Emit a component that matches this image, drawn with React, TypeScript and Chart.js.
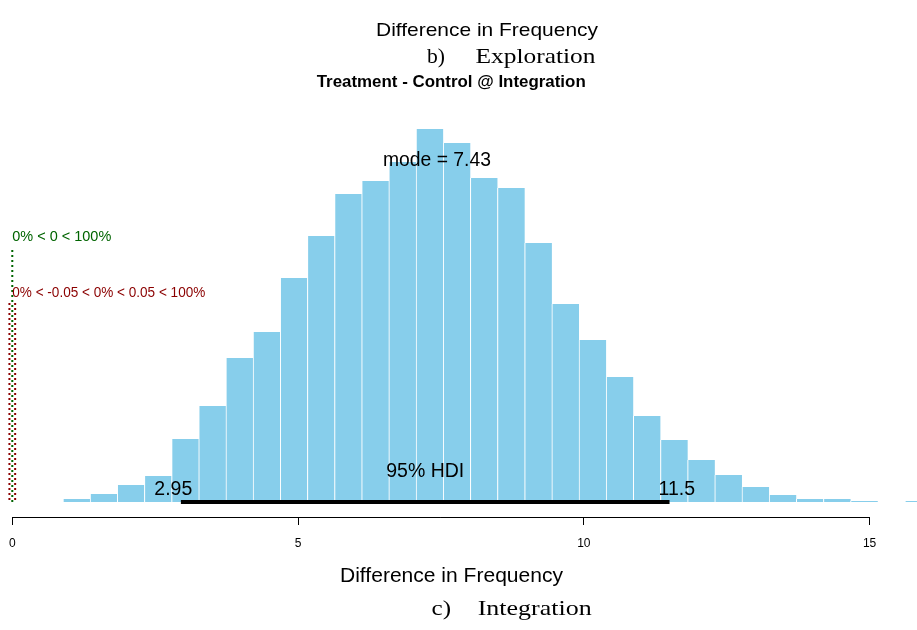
import React, { useEffect, useRef } from "react";
import { Chart, registerables } from "chart.js";

Chart.register(...registerables);

// ---- data ----
const BIN_MIDS = [
  1.125, 1.6, 2.075, 2.55, 3.026, 3.501, 3.976, 4.451, 4.927, 5.402, 5.877,
  6.352, 6.827, 7.303, 7.778, 8.253, 8.728, 9.204, 9.679, 10.154, 10.629,
  11.104, 11.58, 12.055, 12.53, 13.005, 13.481, 13.956, 14.431, 14.906,
  15.382, 15.857,
];
const BIN_COUNTS = [
  3, 8, 17, 26, 63, 96, 144, 170, 224, 266, 308, 321, 340, 373, 359, 324, 314,
  259, 198, 162, 125, 86, 62, 42, 27, 15, 7, 3, 3, 1, 0, 1,
];
const X_TICKS = [0, 5, 10, 15];
const X_MIN = -0.215;
const X_MAX = 15.83;
const Y_MIN = -15;
const Y_MAX = 402;
const HDI = [2.95, 11.5];
const HDI_LABELS = ["2.95", "11.5"];
const MODE = 7.43;
const MODE_LABEL = "mode = 7.43";
const COMP_VAL = 0;
const ROPE = [-0.05, 0.05];
const COMP_LABEL = "0% < 0 < 100%";
const ROPE_LABEL = "0% < -0.05 < 0% < 0.05 < 100%";
const COMP_LINE_TOP = 252;
const ROPE_LINE_TOP = 199;
const COMP_TEXT_Y = 261;
const ROPE_TEXT_Y = 205;
const TOP_CAPTION = "Difference in Frequency";
const PANEL_B = ["b)", "Exploration"];
const MAIN_TITLE = "Treatment - Control @ Integration";
const X_TITLE = "Difference in Frequency";
const PANEL_C = ["c)", "Integration"];

const SANS = "'Liberation Sans', Arial, sans-serif";
const SERIF = "'Liberation Serif', 'Times New Roman', serif";

function drawText(
  ctx: CanvasRenderingContext2D,
  text: string,
  x: number,
  y: number,
  font: string,
  color: string,
  adj: number,
  width?: number
) {
  ctx.save();
  ctx.font = font;
  ctx.fillStyle = color;
  ctx.textBaseline = "alphabetic";
  ctx.textAlign = "left";
  const w = ctx.measureText(text).width;
  const sx = width ? width / w : 1;
  const left = x - adj * w * sx;
  ctx.translate(left, y);
  ctx.scale(sx, 1);
  ctx.fillText(text, 0, 0);
  ctx.restore();
}

const overlay = {
  id: "overlay",
  afterDatasetsDraw(chart: any) {
    const ctx: CanvasRenderingContext2D = chart.ctx;
    const xs = chart.scales.x;
    const ys = chart.scales.y;
    const area = chart.chartArea;
    const X = (v: number) => xs.getPixelForValue(v);
    const Y = (v: number) => ys.getPixelForValue(v);

    // HDI bar
    ctx.save();
    ctx.strokeStyle = "#000";
    ctx.lineWidth = 4;
    ctx.lineCap = "butt";
    ctx.beginPath();
    ctx.moveTo(X(HDI[0]), Y(0));
    ctx.lineTo(X(HDI[1]), Y(0));
    ctx.stroke();
    ctx.restore();

    // comparison value and ROPE dotted lines
    ctx.save();
    ctx.lineWidth = 2;
    ctx.setLineDash([2, 3]);
    ctx.strokeStyle = "#8B0000";
    ROPE.forEach((r) => {
      ctx.beginPath();
      ctx.moveTo(X(r), Y(ROPE_LINE_TOP));
      ctx.lineTo(X(r), Y(0));
      ctx.stroke();
    });
    ctx.strokeStyle = "#006400";
    ctx.beginPath();
    ctx.moveTo(X(COMP_VAL), Y(COMP_LINE_TOP));
    ctx.lineTo(X(COMP_VAL), Y(0));
    ctx.stroke();
    ctx.restore();

    // x axis line (R style, from first to last tick)
    ctx.save();
    ctx.strokeStyle = "#000";
    ctx.lineWidth = 1;
    const yb = Math.round(area.bottom) + 0.5;
    ctx.beginPath();
    ctx.moveTo(X(X_TICKS[0]), yb);
    ctx.lineTo(X(X_TICKS[X_TICKS.length - 1]), yb);
    ctx.stroke();
    ctx.restore();

    // texts
    drawText(ctx, TOP_CAPTION, 376, 36, `19px ${SANS}`, "#000", 0, 222);
    drawText(ctx, PANEL_B[0], 427, 63.3, `22px ${SERIF}`, "#000", 0, 18);
    drawText(ctx, PANEL_B[1], 475.5, 63.3, `22px ${SERIF}`, "#000", 0, 120);
    drawText(ctx, MAIN_TITLE, 316.7, 87.3, `bold 17px ${SANS}`, "#000", 0, 269);

    drawText(ctx, MODE_LABEL, X(MODE), 165.7, `19.5px ${SANS}`, "#000", 0.5, 108);
    drawText(ctx, "95% HDI", X((HDI[0] + HDI[1]) / 2), 477.3, `19.5px ${SANS}`, "#000", 0.5);
    drawText(ctx, HDI_LABELS[0], X(HDI[0]), 495, `19.5px ${SANS}`, "#000", 0.7);
    drawText(ctx, HDI_LABELS[1], X(HDI[1]), 495, `19.5px ${SANS}`, "#000", 0.3);

    drawText(ctx, COMP_LABEL, X(COMP_VAL), Y(COMP_TEXT_Y), `14px ${SANS}`, "#006400", 0, 99);
    drawText(ctx, ROPE_LABEL, X(COMP_VAL), Y(ROPE_TEXT_Y), `14px ${SANS}`, "#8B0000", 0, 193);

    drawText(ctx, X_TITLE, 340, 581.7, `20px ${SANS}`, "#000", 0, 223);
    drawText(ctx, PANEL_C[0], 431.5, 615, `22px ${SERIF}`, "#000", 0, 19.5);
    drawText(ctx, PANEL_C[1], 477.7, 615, `22px ${SERIF}`, "#000", 0, 114);
  },
};

export default function App() {
  const ref = useRef<HTMLCanvasElement | null>(null);
  useEffect(() => {
    if (!ref.current) return;
    const chart = new Chart(ref.current, {
      type: "bar",
      data: {
        datasets: [
          {
            data: BIN_MIDS.map((x, i) => ({ x, y: BIN_COUNTS[i] })),
            backgroundColor: "#87CEEB",
            borderColor: "#ffffff",
            borderWidth: { left: 1, right: 0, top: 0, bottom: 0 },
            borderSkipped: false,
            barPercentage: 1,
            categoryPercentage: 1,
          } as any,
        ],
      },
      options: {
        animation: false,
        responsive: false,
        layout: { padding: { top: 100, bottom: 68, left: 0, right: 0 } },
        plugins: {
          legend: { display: false },
          tooltip: { enabled: false },
          title: { display: false },
        },
        scales: {
          x: {
            type: "linear",
            min: X_MIN,
            max: X_MAX,
            offset: false,
            afterBuildTicks: (s: any) => {
              s.ticks = X_TICKS.map((v) => ({ value: v }));
            },
            ticks: {
              color: "#000",
              padding: 6,
              maxRotation: 0,
              autoSkip: false,
              font: { family: SANS, size: 12, lineHeight: 2.083 },
              callback: (v: any) => String(v),
            },
            grid: {
              drawOnChartArea: false,
              drawTicks: true,
              tickLength: 8,
              color: "#000",
              tickColor: "#000",
              tickWidth: 1,
              offset: false,
            },
            border: { display: false },
          },
          y: { display: false, min: Y_MIN, max: Y_MAX },
        },
      } as any,
      plugins: [overlay],
    });
    return () => chart.destroy();
  }, []);
  return (
    <div style={{ position: "absolute", left: 0, top: 0, width: 917, height: 630, background: "#fff" }}>
      <canvas ref={ref} width={917} height={630} style={{ width: 917, height: 630, display: "block" }} />
    </div>
  );
}
